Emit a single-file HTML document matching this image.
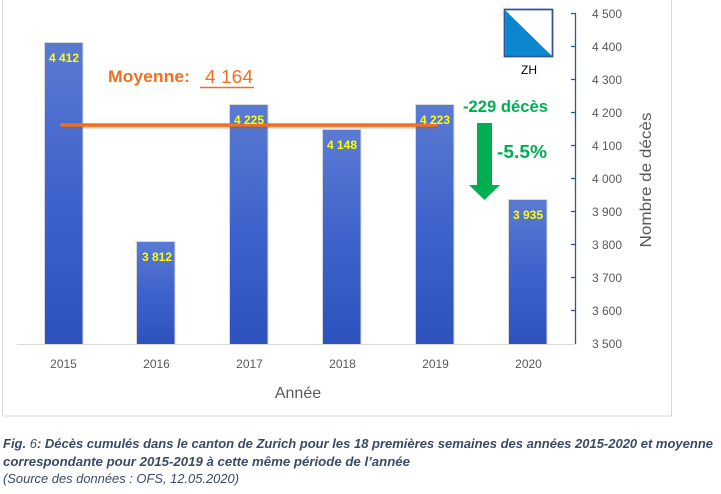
<!DOCTYPE html>
<html><head><meta charset="utf-8"><style>
html,body{margin:0;padding:0;background:#fff;}
svg{display:block;}
text{font-family:"Liberation Sans",sans-serif;}
</style></head><body>
<svg width="721" height="494" viewBox="0 0 721 494" xmlns="http://www.w3.org/2000/svg">
<defs>
<linearGradient id="bg" x1="0" y1="0" x2="0" y2="1">
<stop offset="0" stop-color="#5a7ad2"/>
<stop offset="0.5" stop-color="#3f63cc"/>
<stop offset="1" stop-color="#2e52bd"/>
</linearGradient>
</defs>
<rect x="0" y="0" width="721" height="494" fill="#fff"/>
<!-- chart border -->
<rect x="2.5" y="-5" width="669" height="421" fill="none" stroke="#d9d9d9" stroke-width="1"/>
<!-- x axis line -->
<line x1="17" y1="344.5" x2="575" y2="344.5" stroke="#d9d9d9" stroke-width="1"/>
<!-- bars with shadow -->
<g fill="#bfbfbf" opacity="0.6">
<rect x="44" y="42" width="39.5" height="302"/>
<rect x="136" y="241" width="39.5" height="103"/>
<rect x="229" y="104" width="39.5" height="240"/>
<rect x="322" y="129" width="39.5" height="215"/>
<rect x="415" y="104" width="39.5" height="240"/>
<rect x="508" y="199" width="39.5" height="145"/>
</g>
<g fill="url(#bg)">
<rect x="45" y="43" width="37.5" height="301"/>
<rect x="137" y="242" width="37.5" height="102"/>
<rect x="230" y="105" width="37.5" height="239"/>
<rect x="323" y="130" width="37.5" height="214"/>
<rect x="416" y="105" width="37.5" height="239"/>
<rect x="509" y="200" width="37.5" height="144"/>
</g>
<!-- average line -->
<line x1="63" y1="127" x2="437" y2="127" stroke="#7a5a40" stroke-width="3" opacity="0.35"/>
<line x1="62" y1="125" x2="436" y2="125" stroke="#f07020" stroke-width="3.5" stroke-linecap="round"/>
<!-- data labels -->
<g font-weight="bold" font-size="12" fill="#ffff00" text-anchor="middle">
<text x="64" y="62">4 412</text>
<text x="157" y="261">3 812</text>
<text x="249" y="124">4 225</text>
<text x="342" y="149">4 148</text>
<text x="435" y="124">4 223</text>
<text x="528" y="219">3 935</text>
</g>
<!-- year labels -->
<g font-size="12" fill="#595959" text-anchor="middle">
<text x="63.5" y="368">2015</text>
<text x="156.5" y="368">2016</text>
<text x="249.5" y="368">2017</text>
<text x="342.5" y="368">2018</text>
<text x="435.5" y="368">2019</text>
<text x="528.5" y="368">2020</text>
</g>
<text x="298" y="398" font-size="16" fill="#595959" text-anchor="middle">Année</text>
<!-- right axis -->
<line x1="575.5" y1="13" x2="575.5" y2="344" stroke="#2f5597" stroke-width="1.3"/>
<g stroke="#2f5597" stroke-width="1.3">
<line x1="571" y1="13.5" x2="575.5" y2="13.5"/>
<line x1="571" y1="46.5" x2="575.5" y2="46.5"/>
<line x1="571" y1="79.5" x2="575.5" y2="79.5"/>
<line x1="571" y1="112.5" x2="575.5" y2="112.5"/>
<line x1="571" y1="145.5" x2="575.5" y2="145.5"/>
<line x1="571" y1="178.5" x2="575.5" y2="178.5"/>
<line x1="571" y1="211.5" x2="575.5" y2="211.5"/>
<line x1="571" y1="244.5" x2="575.5" y2="244.5"/>
<line x1="571" y1="277.5" x2="575.5" y2="277.5"/>
<line x1="571" y1="310.5" x2="575.5" y2="310.5"/>
</g>
<g font-size="12" fill="#595959">
<text x="592" y="18">4 500</text>
<text x="592" y="51">4 400</text>
<text x="592" y="84">4 300</text>
<text x="592" y="117">4 200</text>
<text x="592" y="150">4 100</text>
<text x="592" y="183">4 000</text>
<text x="592" y="216">3 900</text>
<text x="592" y="249">3 800</text>
<text x="592" y="282">3 700</text>
<text x="592" y="315">3 600</text>
<text x="592" y="348">3 500</text>
</g>
<text transform="translate(651,180) rotate(-90)" font-size="16" fill="#595959" text-anchor="middle" textLength="135" lengthAdjust="spacingAndGlyphs">Nombre de décès</text>
<!-- Moyenne -->
<text x="108" y="82" font-size="17" font-weight="bold" fill="#f07020" textLength="82" lengthAdjust="spacingAndGlyphs">Moyenne:</text>
<text x="205" y="83" font-size="18" fill="#f07020" textLength="48" lengthAdjust="spacingAndGlyphs">4 164</text>
<line x1="200" y1="87.5" x2="254" y2="87.5" stroke="#f07020" stroke-width="1.5"/>
<!-- ZH flag -->
<rect x="504.5" y="9.5" width="48" height="47" fill="#fff" stroke="#2f5597" stroke-width="1.5"/>
<polygon points="505.5,10.5 505.5,56 552,56" fill="#0a87cf"/>
<rect x="504.5" y="9.5" width="48" height="47" fill="none" stroke="#2f5597" stroke-width="1.5"/>
<text x="529" y="74" font-size="12" fill="#000" text-anchor="middle">ZH</text>
<!-- decrease annotation -->
<text x="463" y="112" font-size="17" font-weight="bold" fill="#00b050" textLength="85" lengthAdjust="spacingAndGlyphs">-229 décès</text>
<text x="497" y="158" font-size="18" font-weight="bold" fill="#00b050" textLength="50" lengthAdjust="spacingAndGlyphs">-5.5%</text>
<polygon points="477,123 492,123 492,185 500,185 484.5,200 469,185 477,185" fill="#00b050"/>
<!-- caption -->
<g fill="#3a4a66" font-size="13" font-style="italic">
<text x="3" y="448" font-weight="bold" textLength="710" lengthAdjust="spacingAndGlyphs">Fig. <tspan font-weight="normal">6</tspan>: Décès cumulés dans le canton de Zurich pour les 18 premières semaines des années 2015-2020 et moyenne</text>
<text x="3" y="466" font-weight="bold" textLength="407" lengthAdjust="spacingAndGlyphs">correspondante pour 2015-2019 à cette même période de l’année</text>
<text x="3" y="483" textLength="236" lengthAdjust="spacingAndGlyphs">(Source des données : OFS, 12.05.2020)</text>
</g>
</svg>
</body></html>
